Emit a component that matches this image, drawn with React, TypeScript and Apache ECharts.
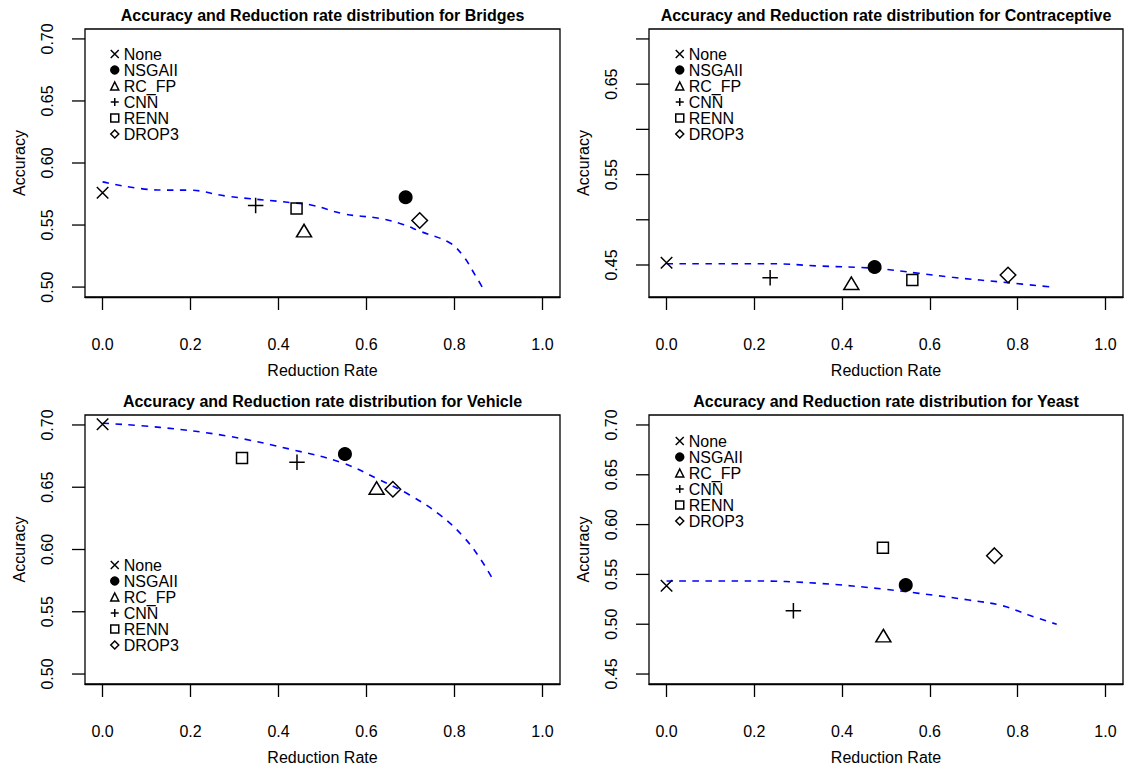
import React, { useEffect, useRef } from 'react';
import * as echarts from 'echarts';

const methods = ['None', 'NSGAII', 'RC_FP', 'CNN', 'RENN', 'DROP3'];
const datasets = ['Bridges', 'Contraceptive', 'Vehicle', 'Yeast'];

// Reduction rate (x) and accuracy (y) per method: None, NSGAII, RC_FP, CNN, RENN, DROP3
const bridgesRate = [0, 0.689, 0.458, 0.348, 0.441, 0.721];
const bridgesAcc = [0.576, 0.5724, 0.5455, 0.5658, 0.5633, 0.5537];
const contraRate = [0, 0.474, 0.421, 0.236, 0.56, 0.778];
const contraAcc = [0.4525, 0.4478, 0.4298, 0.436, 0.4334, 0.4389];
const vehicleRate = [0, 0.551, 0.623, 0.442, 0.317, 0.66];
const vehicleAcc = [0.7006, 0.6767, 0.6494, 0.67, 0.6735, 0.6484];
const yeastRate = [0, 0.545, 0.494, 0.289, 0.493, 0.747];
const yeastAcc = [0.5387, 0.5394, 0.4885, 0.5136, 0.5768, 0.5688];

// Dashed trend curves (reduction rate, accuracy)
const bridgesCurveX = [0, 0.13, 0.198, 0.282, 0.433, 0.479, 0.547, 0.63, 0.683, 0.721, 0.789, 0.82, 0.846, 0.867];
const bridgesCurveY = [0.5848, 0.5782, 0.5781, 0.5733, 0.5679, 0.5658, 0.5591, 0.5553, 0.5505, 0.5451, 0.5357, 0.525, 0.5103, 0.4977];
const contraCurveX = [0, 0.234, 0.348, 0.474, 0.575, 0.651, 0.778, 0.877];
const contraCurveY = [0.4514, 0.4514, 0.4489, 0.4463, 0.4408, 0.4364, 0.4304, 0.4257];
const vehicleCurveX = [0, 0.13, 0.282, 0.433, 0.547, 0.63, 0.698, 0.767, 0.82, 0.858, 0.888];
const vehicleCurveY = [0.7014, 0.6981, 0.6912, 0.68, 0.6693, 0.6559, 0.6438, 0.6278, 0.6104, 0.593, 0.5756];
const yeastCurveX = [0, 0.196, 0.348, 0.5, 0.575, 0.689, 0.765, 0.825, 0.889];
const yeastCurveY = [0.5434, 0.5434, 0.541, 0.535, 0.531, 0.5243, 0.5186, 0.5092, 0.4999];

const xTicks = [0, 0.2, 0.4, 0.6, 0.8, 1.0];
const bridgesYTicks = [0.5, 0.55, 0.6, 0.65, 0.7];
const contraYTicks = [0.45, 0.5, 0.55, 0.6, 0.65, 0.7];
const contraYLabels = [0.45, 0.55, 0.65];
const vehicleYTicks = [0.5, 0.55, 0.6, 0.65, 0.7];
const yeastYTicks = [0.45, 0.5, 0.55, 0.6, 0.65, 0.7];

const X_MIN = -0.04;
const X_MAX = 1.04;
const TICK_LEN = 13;
const FONT = 'Liberation Sans, Arial, Helvetica, sans-serif';

const symbols: Record<string, { symbol: string; size: any; filled: boolean }> = {
  None: { symbol: 'path://M0,0L10,10M10,0L0,10', size: 11.5, filled: false },
  NSGAII: { symbol: 'circle', size: 12.5, filled: true },
  RC_FP: { symbol: 'triangle', size: [15, 12.5], filled: false },
  CNN: { symbol: 'path://M5,0L5,10M0,5L10,5', size: 15.5, filled: false },
  RENN: { symbol: 'rect', size: 11, filled: false },
  DROP3: { symbol: 'diamond', size: [15.5, 15.5], filled: false },
};

export default function App() {
  const ref = useRef<HTMLDivElement>(null);
  useEffect(() => {
    if (!ref.current) return;
    const chart = echarts.init(ref.current, null, { renderer: 'svg' });

    const panels = [
      { rate: bridgesRate, acc: bridgesAcc, cx: bridgesCurveX, cy: bridgesCurveY, yMin: 0.492, yMax: 0.708, yTicks: bridgesYTicks, yLabels: bridgesYTicks, grid: { left: 85, top: 29, width: 475, height: 268 }, legend: { left: 110, top: 46 }, titleY: 7 },
      { rate: contraRate, acc: contraAcc, cx: contraCurveX, cy: contraCurveY, yMin: 0.4146, yMax: 0.711, yTicks: contraYTicks, yLabels: contraYLabels, grid: { left: 649, top: 29, width: 474, height: 268 }, legend: { left: 675, top: 46 }, titleY: 7 },
      { rate: vehicleRate, acc: vehicleAcc, cx: vehicleCurveX, cy: vehicleCurveY, yMin: 0.492, yMax: 0.708, yTicks: vehicleYTicks, yLabels: vehicleYTicks, grid: { left: 85, top: 415, width: 475, height: 269 }, legend: { left: 110, top: 557 }, titleY: 393 },
      { rate: yeastRate, acc: yeastAcc, cx: yeastCurveX, cy: yeastCurveY, yMin: 0.44, yMax: 0.71, yTicks: yeastYTicks, yLabels: yeastYTicks, grid: { left: 649, top: 415, width: 474, height: 269 }, legend: { left: 675, top: 433 }, titleY: 393 },
    ];

    const grid: any[] = [];
    const xAxis: any[] = [];
    const yAxis: any[] = [];
    const series: any[] = [];
    const legend: any[] = [];
    const title: any[] = [];

    panels.forEach((p, i) => {
      grid.push({ ...p.grid, show: true, borderColor: '#000', borderWidth: 1.3 });
      xAxis.push({
        type: 'value', gridIndex: i, min: X_MIN, max: X_MAX,
        name: 'Reduction Rate', nameLocation: 'middle', nameGap: 65,
        nameTextStyle: { fontSize: 16, color: '#000', fontFamily: FONT },
        axisLine: { show: true, onZero: false, lineStyle: { color: '#000', width: 1.3 } },
        axisTick: { show: true, length: TICK_LEN, customValues: xTicks, lineStyle: { color: '#000', width: 1.3 } },
        axisLabel: { show: true, customValues: xTicks, margin: 39, fontSize: 16, color: '#000', fontFamily: FONT, formatter: (v: number) => v.toFixed(1) },
        splitLine: { show: false },
      });
      yAxis.push({
        type: 'value', gridIndex: i, min: p.yMin, max: p.yMax, position: 'left',
        name: 'Accuracy', nameLocation: 'middle', nameGap: 58,
        nameTextStyle: { fontSize: 16, color: '#000', fontFamily: FONT },
        axisLine: { show: false, onZero: false },
        axisTick: { show: false },
        axisLabel: { show: true, rotate: 90, customValues: p.yLabels, margin: 30, fontSize: 16, color: '#000', fontFamily: FONT, formatter: (v: number) => v.toFixed(2) },
        splitLine: { show: false },
      });
      methods.forEach((m, k) => {
        const s = symbols[m];
        series.push({
          type: 'scatter', name: m, xAxisIndex: i, yAxisIndex: i,
          data: [[p.rate[k], p.acc[k]]],
          symbol: s.symbol, symbolSize: s.size,
          itemStyle: { color: s.filled ? '#000' : 'rgba(0,0,0,0)', borderColor: '#000', borderWidth: 1.5, opacity: 1 },
          silent: true, z: 3,
        });
      });
      series.push({
        type: 'line', name: 'trend', xAxisIndex: i, yAxisIndex: i,
        data: p.cx.map((x, k) => [x, p.cy[k]]),
        showSymbol: false, symbol: 'none', smooth: 0.4,
        lineStyle: { color: '#0000FF', width: 1.6, type: [6.5, 6.5] },
        silent: true, z: 2,
      });
      legend.push({
        orient: 'vertical', left: p.legend.left, top: p.legend.top, padding: 0, itemGap: 0,
        itemWidth: 8, itemHeight: 8, selectedMode: false, data: methods,
        textStyle: { fontSize: 16, lineHeight: 14, color: '#000', fontFamily: FONT },
        itemStyle: { borderWidth: 1.5, opacity: 1 },
      });
      title.push({
        text: 'Accuracy and Reduction rate distribution for ' + datasets[i],
        left: p.grid.left + p.grid.width / 2, top: p.titleY, textAlign: 'center', padding: 0,
        textStyle: { fontSize: 16, fontWeight: 'bold', color: '#000', fontFamily: FONT },
      });
    });

    chart.setOption({ animation: false, backgroundColor: '#fff', grid, xAxis, yAxis, series, legend, title });

    // Y-axis ticks placed through the library's own scales
    const tickLines: any[] = [];
    panels.forEach((p, i) => {
      p.yTicks.forEach((v) => {
        const pt = chart.convertToPixel({ xAxisIndex: i, yAxisIndex: i } as any, [X_MIN, v]) as any;
        if (!pt) return;
        tickLines.push({
          type: 'line', silent: true, z: 10,
          shape: { x1: pt[0] - TICK_LEN, y1: pt[1], x2: pt[0], y2: pt[1] },
          style: { stroke: '#000', lineWidth: 1.3 },
        });
      });
    });
    chart.setOption({ graphic: tickLines });

    return () => chart.dispose();
  }, []);
  return <div ref={ref} style={{ position: 'fixed', left: 0, top: 0, width: 1124, height: 767 }} />;
}
